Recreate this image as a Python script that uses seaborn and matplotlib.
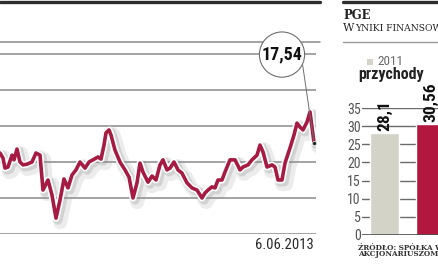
import matplotlib
matplotlib.use("Agg")
import matplotlib.pyplot as plt
import matplotlib.patheffects as pe
from matplotlib.lines import Line2D
from matplotlib.patches import Rectangle
from matplotlib.font_manager import FontProperties, fontManager
import seaborn as sns
import pandas as pd

# ---------------- data ----------------
sessions = [0, 3, 5, 8, 12, 14, 17, 20, 23, 27, 32, 36, 40, 43, 48, 52, 56, 60, 64, 68,
            72, 76, 80, 85, 89, 93, 98, 101, 104, 106, 109, 111, 115, 120, 125, 129, 133,
            137, 140, 143, 148, 152, 156, 160, 163, 167, 170, 174, 178, 182, 187, 192,
            197, 202, 205, 208, 212, 215, 218, 222, 225, 230, 235, 240, 243, 248, 252,
            257, 260, 263, 267, 272, 275, 278, 282, 285, 290, 294, 297, 300, 303, 307,
            310, 314]
price = [17.25, 17.11, 16.83, 16.86, 17.19, 17.06, 17.36, 17.00, 16.92, 16.94, 17.00,
         17.25, 17.19, 16.22, 16.50, 16.08, 15.44, 15.94, 16.53, 16.28, 16.64, 16.78,
         17.00, 16.83, 17.00, 17.06, 17.14, 17.08, 17.47, 17.81, 17.89, 17.75, 17.33,
         17.00, 16.78, 16.58, 16.00, 16.42, 16.97, 16.72, 16.44, 16.61, 16.50, 16.92,
         17.06, 16.78, 16.83, 17.00, 16.78, 16.69, 16.42, 16.28, 16.22, 16.00, 16.14,
         16.22, 16.31, 16.28, 16.50, 16.50, 16.72, 17.06, 17.06, 16.78, 16.86, 16.92,
         17.06, 17.19, 17.47, 17.28, 16.86, 16.92, 16.86, 16.50, 16.50, 16.97, 17.39,
         17.75, 18.08, 17.97, 17.89, 18.11, 18.39, 17.54]
price_grid = [15, 16, 17, 18, 19, 20]
last_label = "17,54"
last_date = "6.06.2013"

years = ["2011", "2012"]
revenue = [28.1, 30.56]
revenue_labels = ["28,1", "30,56"]
bar_ticks = [0, 5, 10, 15, 20, 25, 30, 35]

# ---------------- fonts ----------------
sns.set_theme(style="white")
plt.rcParams["font.family"] = ["DejaVu Sans"]


def find_condensed(bold):
    cands = []
    for f in fontManager.ttflist:
        nm = f.name.lower()
        fn = f.fname.lower()
        is_cond = (f.stretch in ("condensed", "semi-condensed", "extra-condensed")
                   or "condensed" in nm or "narrow" in nm
                   or "condensed" in fn or "narrow" in fn)
        if not is_cond:
            continue
        w = f.weight if isinstance(f.weight, int) else (700 if "bold" in str(f.weight) else 400)
        if "italic" in fn or f.style != "normal":
            continue
        if "extra" in fn or "ultra" in fn:
            continue
        target = 700 if bold else 400
        if "liberation" in fn:
            pref = 0
        elif "roboto" in fn:
            pref = 1
        elif "dejavu" in fn:
            pref = 2
        elif "noto" in fn:
            pref = 3
        else:
            pref = 4
        cands.append((pref, abs(w - target), fn, f.fname))
    if not cands:
        return None
    cands.sort()
    return cands[0][3]


cond_b = find_condensed(True)
cond_r = find_condensed(False)
HAVE_COND = cond_b is not None and cond_r is not None
SCALE = 1.0 if HAVE_COND else 0.8


def fp(size, bold=False):
    path = cond_b if bold else cond_r
    if path:
        return FontProperties(fname=path, size=size)
    return FontProperties(family="DejaVu Sans", weight="bold" if bold else "normal",
                          size=size * SCALE)


RED_LINE = "#a51b41"
RED_BAR = "#b2183f"
GRAY_BAR = "#d3d3c8"
GRID = "#8a8a8a"
DARK = "#2e2e2e"

W, H = 439, 268
fig = plt.figure(figsize=(W / 100, H / 100), dpi=100)
fig.patch.set_facecolor("white")


def fx(x):
    return x / W


def fy(y):
    return 1 - y / H


# ---------------- line chart ----------------
ax = fig.add_axes([0, fy(234), fx(316), fy(42) - fy(234)])
ax.set_facecolor("white")
df = pd.DataFrame({"sesja": sessions, "kurs": price})
sns.lineplot(data=df, x="sesja", y="kurs", ax=ax, color=RED_LINE, linewidth=2.6,
             zorder=4,
             path_effects=[pe.SimpleLineShadow(offset=(3, -3), shadow_color="#999999",
                                               alpha=0.18, linewidth=10),
                           pe.SimpleLineShadow(offset=(1.5, -1.5), shadow_color="#888888",
                                               alpha=0.25, linewidth=6.5),
                           pe.Stroke(linewidth=5.0, foreground="white"),
                           pe.Normal()])
ax.set_xlim(0, 316)
ax.set_ylim(15, 20 + 1 / 3)
ax.set_yticks(price_grid)
ax.set_yticklabels([])
ax.set_xticks([])
ax.tick_params(length=0)
ax.set_xlabel("")
ax.set_ylabel("")
for s in ax.spines.values():
    s.set_visible(False)
ax.grid(axis="y", color=GRID, linewidth=1.1)
ax.grid(axis="x", visible=False)
ax.axhline(20 + 1 / 3, xmin=0, xmax=320 / 316, color=GRID, linewidth=1.1,
           clip_on=False, zorder=1)

# last point marker
ax.plot([sessions[-1]], [price[-1]], marker="o", markersize=3.0, color="#222222",
        markeredgecolor="#dddddd", markeredgewidth=0.6, zorder=6, clip_on=False)

# bubble annotation
ax.annotate(last_label, xy=(sessions[-1], price[-1]), xycoords="data",
            xytext=(-32, 88), textcoords="offset pixels", ha="center", va="center",
            fontproperties=fp(13, True), color="#111111", zorder=7,
            bbox=dict(boxstyle="circle,pad=0.12", facecolor="white",
                      edgecolor="#6e6e6e", linewidth=0.8),
            arrowprops=dict(arrowstyle="-", color="#6e6e6e", linewidth=0.7,
                            relpos=(1.0, 0.0), shrinkA=0, shrinkB=1.5))

# date label
ax.annotate(last_date, xy=(sessions[-1], 0), xycoords=("data", "axes fraction"),
            xytext=(0, -4), textcoords="offset pixels", ha="right", va="top",
            fontproperties=fp(10.5, False), color="#2a2a2a", annotation_clip=False)

# top dark rule
fig.add_artist(Line2D([0, fx(320)], [fy(1.5), fy(1.5)], color=DARK, linewidth=2.4))

# ---------------- right panel ----------------
fig.add_artist(Line2D([fx(343), 1], [fy(1.5), fy(1.5)], color=DARK, linewidth=2.4))
fig.text(fx(343), fy(19), "PGE", fontsize=8.4, fontweight="bold",
         family="DejaVu Serif", color="#222222", va="baseline", ha="left")
fig.text(fx(343), fy(31), "W", fontsize=8.0, family="DejaVu Serif",
         color="#222222", va="baseline", ha="left")
fig.text(fx(355), fy(31), "YNIKI FINANSOWE", fontsize=6.6, family="DejaVu Serif",
         color="#222222", va="baseline", ha="left")
fig.add_artist(Line2D([fx(343), 1], [fy(42), fy(42)], color="#9a9a9a", linewidth=1.0))

fig.add_artist(Rectangle((fx(367), fy(65)), fx(6), 6 / H, transform=fig.transFigure,
                         facecolor=GRAY_BAR, edgecolor="none"))
fig.text(fx(377.5), fy(61.5), years[0], fontproperties=fp(9.5, False), color="#6a6a6a",
         va="center", ha="left")
fig.text(fx(358), fy(78.5), "przychody", fontproperties=fp(11.5, True),
         color="#222222", va="baseline", ha="left")

bx = fig.add_axes([fx(362), fy(235), 1 - fx(362), fy(108) - fy(235)])
bx.set_facecolor("white")
bdf = pd.DataFrame({"rok": years, "przychody": revenue})
sns.barplot(data=bdf, x="rok", y="przychody", hue="rok",
            palette=[GRAY_BAR, RED_BAR], width=0.63, ax=bx, legend=False,
            zorder=3, saturation=1)
bx.set_xlim(-22.5 / 46, (77 - 22.5) / 46)
bx.set_ylim(0, 35)
bx.set_yticks(bar_ticks)
bx.set_yticklabels([str(t) for t in bar_ticks])
for lab in bx.get_yticklabels():
    lab.set_fontproperties(fp(10, False))
    lab.set_color("#555555")
bx.tick_params(axis="y", length=0, pad=1)
bx.set_xticks([])
bx.set_xlabel("")
bx.set_ylabel("")
for s in bx.spines.values():
    s.set_visible(False)
bx.grid(axis="y", color="#6a6a6a", linewidth=1.0, zorder=0)
bx.grid(axis="x", visible=False)
bx.axhline(0, color="#444444", linewidth=1.1, zorder=4)
for i, (v, lab) in enumerate(zip(revenue, revenue_labels)):
    bx.annotate(lab, xy=(i, v), xytext=(0, 2), textcoords="offset pixels",
                rotation=90, ha="center", va="bottom", fontproperties=fp(12.5, True),
                color="#111111", annotation_clip=False)

fig.text(fx(358), fy(247.5), "ŹRÓDŁO: SPÓŁKA W RAPORCIE DLA", fontsize=5.2,
         fontweight="bold", family="DejaVu Serif", color="#333333",
         va="center", ha="left")
fig.text(fx(358), fy(254.5), "AKCJONARIUSZOM", fontsize=5.2,
         fontweight="bold", family="DejaVu Serif", color="#333333",
         va="center", ha="left")

fig.savefig("out.png", dpi=100, facecolor="white")
